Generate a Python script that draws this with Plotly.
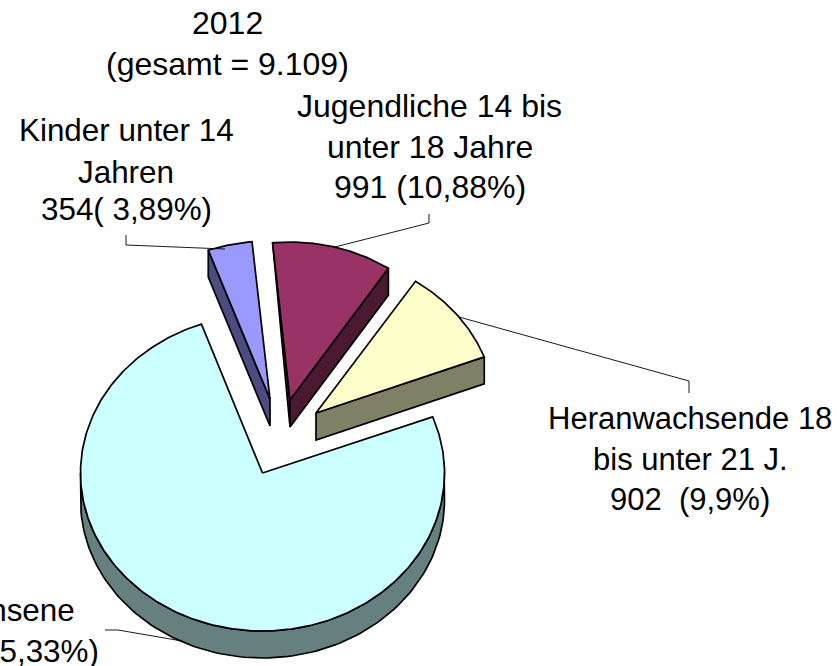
import math
import plotly.graph_objects as go

# ---- data ----
categories = ["Kinder unter 14 Jahren", "Jugendliche 14 bis unter 18 Jahre",
              "Heranwachsende 18 bis unter 21 J.", "Erwachsene"]
values = [354, 991, 902, 6862]
label_lines = ["2012", "(gesamt = 9.109)",
               "Jugendliche 14 bis", "unter 18 Jahre", "991 (10,88%)",
               "Kinder unter 14", "Jahren", "354( 3,89%)",
               "Heranwachsende 18", "bis unter 21 J.", "902  (9,9%)",
               "Erwachsene", "6862 (75,33%)"]

# ---- styles and geometry ----
face_colors = ["#9999FF", "#993366", "#FFFFCC", "#CCFFFF"]
wall_colors = ["#4C4C80", "#4C1933", "#808066", "#668080"]
START_ANGLE = 340.4
RY, DEPTH = 158, 27
radii_x = [184, 178, 180, 182]
tips = [(270, 399), (290, 400), (316, 413), (262.5, 473)]
label_places = [
    (227, 23, "center", 32), (227, 64, "center", 32),
    (429.5, 106, "center", 32), (429.5, 147, "center", 32), (429.5, 187, "center", 32),
    (126, 130, "center", 31.4), (126, 172, "center", 31.4), (126, 209, "center", 31.4),
    (690, 418, "center", 31), (690, 459, "center", 31), (690, 499, "center", 31),
    (77, 610, "right", 31.4), (101, 651, "right", 31.4),
]

total = sum(values)
spans = []
a = START_ANGLE
for v in values:
    spans.append((a, a + v / total * 360))
    a += v / total * 360


def rim_point(i, angle):
    t = math.radians(angle)
    return (tips[i][0] + radii_x[i] * math.sin(t), tips[i][1] - RY * math.cos(t))


def rim(i, a0, a1, n=120):
    return [rim_point(i, a0 + (a1 - a0) * k / n) for k in range(n + 1)]


fig = go.Figure()


def poly(pts, fill):
    xs = [p[0] for p in pts] + [pts[0][0]]
    ys = [p[1] for p in pts] + [pts[0][1]]
    fig.add_trace(go.Scatter(x=xs, y=ys, mode="lines", fill="toself", fillcolor=fill,
                             line=dict(color="black", width=1.7), hoverinfo="skip",
                             showlegend=False))


def down(p):
    return (p[0], p[1] + DEPTH)


# Erwachsene (back-most large slice first)
a0, a1 = spans[3]
arc = rim(3, 86, 270)
poly(arc + [down(p) for p in reversed(arc)], wall_colors[3])
poly([tips[3]] + rim(3, a0, a1, 300), face_colors[3])

# Kinder
a0, a1 = spans[0]
edge = rim_point(0, a0)
poly([edge, tips[0], down(tips[0]), down(edge)], wall_colors[0])
poly([tips[0]] + rim(0, a0, a1, 30), face_colors[0])

# Jugendliche
a0, a1 = spans[1]
e0 = rim_point(1, a0)
e1 = rim_point(1, a1)
poly([e0, tips[1], down(tips[1])], wall_colors[1])
poly([e1, tips[1], down(tips[1]), down(e1)], wall_colors[1])
poly([tips[1]] + rim(1, a0, a1, 60), face_colors[1])

# Heranwachsende
a0, a1 = spans[2]
e1 = rim_point(2, a1)
poly([e1, tips[2], down(tips[2]), down(e1)], wall_colors[2])
poly([tips[2]] + rim(2, a0, a1, 60), face_colors[2])

# ---- leader lines ----
leaders = [
    [(126, 235), (126, 245), (225, 249)],
    [(429, 214), (429, 223), (335, 247)],
    [(689, 393), (689, 381), (459, 317)],
    [(105, 630), (118, 630), (182, 641)],
]
for ld in leaders:
    fig.add_trace(go.Scatter(x=[p[0] for p in ld], y=[p[1] for p in ld], mode="lines",
                             line=dict(color="black", width=0.9), hoverinfo="skip",
                             showlegend=False))

for s, (x, y, anc, size) in zip(label_lines, label_places):
    fig.add_annotation(x=x, y=y, text=s, xref="x", yref="y", showarrow=False,
                       xanchor=anc, yanchor="middle",
                       font=dict(family="Liberation Sans, Arial, sans-serif", size=size, color="black"))

fig.update_layout(
    width=837, height=666, margin=dict(l=0, r=0, t=0, b=0),
    paper_bgcolor="white", plot_bgcolor="white", showlegend=False,
    xaxis=dict(range=[0, 837], visible=False, fixedrange=True),
    yaxis=dict(range=[666, 0], visible=False, fixedrange=True),
)
fig.write_html("out.html", config={"displayModeBar": False},
               post_script="document.body.style.margin='0';")
